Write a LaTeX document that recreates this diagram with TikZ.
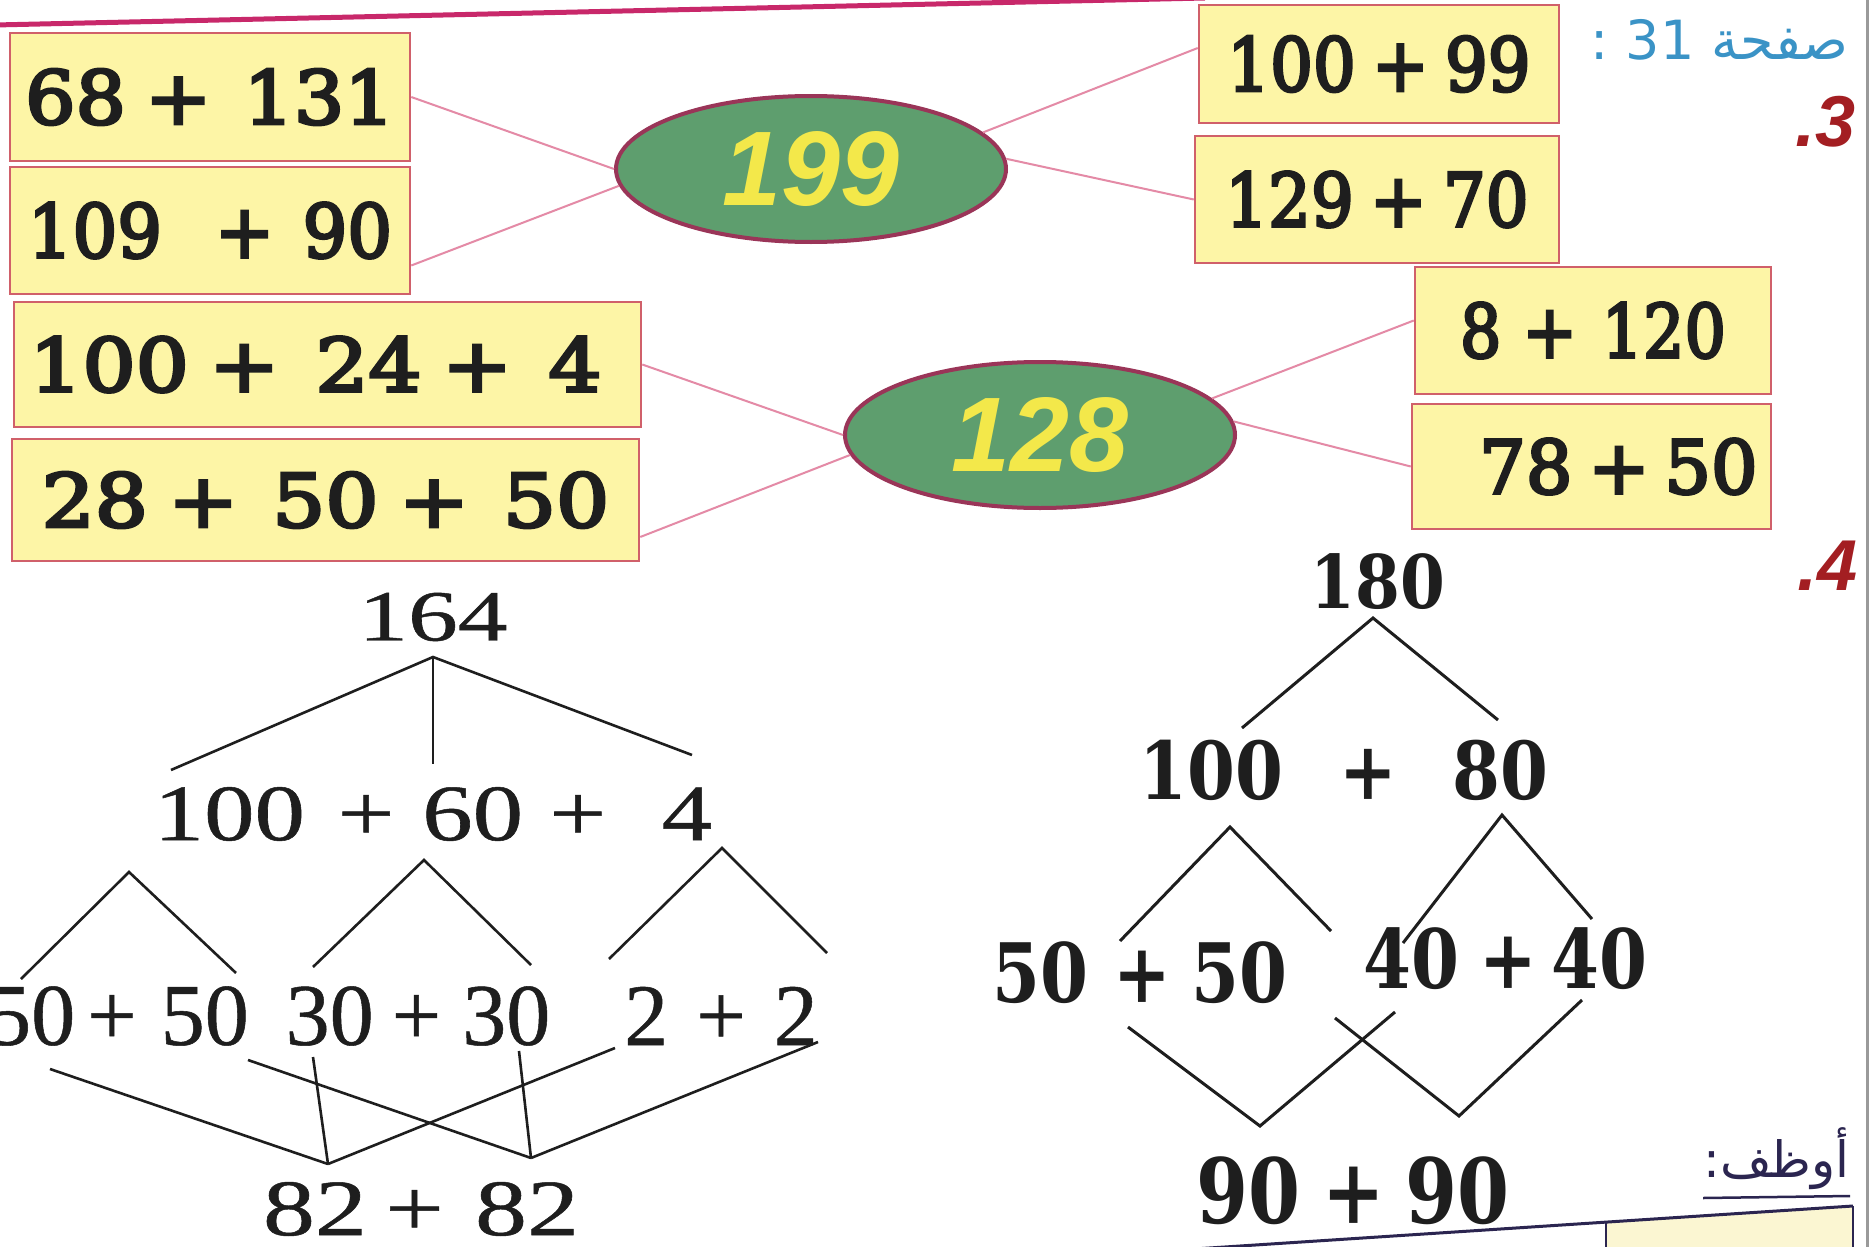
\documentclass[tikz,border=0pt]{standalone}
\usepackage{fontspec}
\usepackage{graphicx}
\usetikzlibrary{shapes.geometric,calc}
\TeXXeTstate=1
\setmainfont{DejaVu Serif}
\newfontfamily\boxfont{DejaVu Serif}[FakeBold=4]
\newfontfamily\treefont{DejaVu Serif}
\newfontfamily\leftfont{Liberation Serif}[FakeBold=0.6]
\newfontfamily\numfont{Liberation Sans}
\newfontfamily\arabicfont[Script=Arabic]{DejaVu Sans}
\newcommand\sq[2]{\scalebox{#1}[1]{#2}}
\newcommand\gp[1]{\hspace{#1pt}}
\newcommand\lfs[1]{\leftfont\fontsize{#1}{#1}\selectfont}
\newcommand\bfs[1]{\boxfont\fontsize{#1}{#1}\selectfont}
\newcommand\rfs[1]{\treefont\bfseries\fontsize{#1}{#1}\selectfont}
\definecolor{boxfill}{HTML}{FDF5A6}
\definecolor{boxline}{HTML}{D0606A}
\definecolor{ellfill}{HTML}{5E9E6E}
\definecolor{ellline}{HTML}{9A3558}
\definecolor{conn}{HTML}{E48AA6}
\definecolor{topline}{HTML}{C8286A}
\definecolor{numyellow}{HTML}{F3E84A}
\definecolor{headblue}{HTML}{3A93C6}
\definecolor{secred}{HTML}{A31E22}
\definecolor{ink}{HTML}{1E1E1E}
\definecolor{darkink}{HTML}{2B2550}
\definecolor{cellyellow}{HTML}{FBF6D2}
\definecolor{edgegray}{HTML}{9A9A9A}
\tikzset{
  sumbox/.style={draw=boxline, line width=2.5pt, fill=boxfill, inner sep=0pt, text=ink, font=\bfs{74}},
  blob/.style={ellipse, draw=ellline, line width=4pt, fill=ellfill, inner sep=0pt,
    minimum width=390pt, minimum height=146pt, text=numyellow,
    font=\numfont\bfseries\itshape\fontsize{106}{106}\selectfont},
  link/.style={draw=conn, line width=2pt},
  ltree/.style={text=ink, inner sep=0pt},
  rtree/.style={text=ink, inner sep=0pt},
  branch/.style={draw=ink, line width=2.6pt},
  secnum/.style={text=secred, inner sep=0pt, font=\numfont\bfseries\itshape\fontsize{72}{72}\selectfont},
}
\begin{document}
\begin{tikzpicture}[x=1pt, y=-1pt]
\useasboundingbox (0,0) rectangle (1872,1247);
\fill[white] (0,0) rectangle (1872,1247);

% top border line and right edge
\draw[topline, line width=5pt] (-5,25) -- (1205,-2);
\draw[edgegray, line width=3pt] (1867,0) -- (1867,1247);

% ---------- exercise 3 ----------
\node[sumbox, minimum width=400pt, minimum height=128pt] (b1) at (210,97) {\sq{1.07}{68\gp{18}+\gp{30}131}};
\node[sumbox, minimum width=400pt, minimum height=127pt] (b2) at (210,230.5) {\sq{0.95}{109\gp{56}+\gp{30}90}};
\node[sumbox, minimum width=360pt, minimum height=118pt] (b3) at (1379,64) {\sq{0.91}{100\gp{18}+\gp{18}99}};
\node[sumbox, minimum width=364pt, minimum height=127pt] (b4) at (1377,199.5) {\sq{0.91}{129\gp{18}+\gp{18}70}};
\node[sumbox, minimum width=627pt, minimum height=125pt] (b5) at (327.5,364.5) {\sq{1.13}{100\gp{18}+\gp{32}24\gp{18}+\gp{32}4}\hspace*{24pt}};
\node[sumbox, minimum width=627pt, minimum height=122pt] (b6) at (325.5,500) {\sq{1.13}{28\gp{18}+\gp{30}50\gp{18}+\gp{30}50}};
\node[sumbox, minimum width=356pt, minimum height=127pt] (b7) at (1593,330.5) {\sq{0.88}{8\gp{24}+\gp{28}120}};
\node[sumbox, minimum width=359pt, minimum height=125pt] (b8) at (1591.5,466.5) {\hspace*{54pt}\sq{0.99}{78\gp{16}+\gp{15}50}};

\node[blob] (e1) at (811,169) {199};
\node[blob] (e2) at (1040,435) {128};

\draw[link] (b1.east) -- (e1.west);
\draw[link] ($(b2.east)+(0,35)$) -- (e1.185);
\draw[link] (e1.12) -- ($(b3.west)+(0,-16)$);
\draw[link] (e1.3) -- (b4.west);
\draw[link] (b5.east) -- (e2.west);
\draw[link] ($(b6.east)+(0,37)$) -- (e2.186);
\draw[link] (e2.12) -- ($(b7.west)+(0,-10)$);
\draw[link] (e2.4) -- (b8.west);

% ---------- headers ----------
\node[font=\arabicfont\fontsize{54}{54}\selectfont, text=headblue, anchor=east, inner sep=0pt] (hdr) at (1849,40) {\beginR صفحة \beginL 31\endL{} :\endR};
\node[secnum, anchor=east] (s3) at (1856,122) {.3};
\node[secnum, anchor=east] (s4) at (1858,566) {.4};

% ---------- left tree ----------
\node[ltree, font=\lfs{72}] (l164) at (433,617) {\sq{1.38}{164}};
\node[ltree, font=\lfs{80}] (l2) at (433,814) {\sq{1.26}{100\gp{26}+\gp{22}60\gp{21}+\gp{44}4}};
\node[ltree, font=\lfs{88}] (l3a) at (118,1016) {\sq{1.0}{50\gp{12}+\gp{24}50}};
\node[ltree, font=\lfs{88}] (l3b) at (418,1016) {\sq{1.0}{30\gp{18}+\gp{21}30}};
\node[ltree, font=\lfs{88}] (l3c) at (721,1016) {\sq{1.0}{2\gp{28}+\gp{28}2}};
\node[ltree, font=\lfs{80}] (l4) at (421,1209) {\sq{1.3}{82\gp{14}+\gp{24}82}};

\coordinate (p0) at (433,657);
\coordinate (p0l) at (171,770);
\coordinate (p0m) at (433,764);
\coordinate (p0r) at (692,755);
\coordinate (pa) at (129,872);  \coordinate (pal) at (21,979);  \coordinate (par) at (236,973);
\coordinate (pb) at (424,860);  \coordinate (pbl) at (313,967); \coordinate (pbr) at (531,965);
\coordinate (pc) at (722,848);  \coordinate (pcl) at (609,959); \coordinate (pcr) at (827,953);
\coordinate (q1) at (50,1069);  \coordinate (q2) at (248,1060); \coordinate (q3) at (313,1057);
\coordinate (q4) at (519,1051); \coordinate (q5) at (615,1048); \coordinate (q6) at (818,1042);
\coordinate (v1) at (328,1164); \coordinate (v2) at (531,1158);

\draw[branch] (p0l) -- (p0) -- (p0r);
\draw[branch] (p0) -- (p0m);
\draw[branch] (pal) -- (pa) -- (par);
\draw[branch] (pbl) -- (pb) -- (pbr);
\draw[branch] (pcl) -- (pc) -- (pcr);
\draw[branch] (q1) -- (v1);
\draw[branch] (q3) -- (v1);
\draw[branch] (q5) -- (v1);
\draw[branch] (q2) -- (v2);
\draw[branch] (q4) -- (v2);
\draw[branch] (q6) -- (v2);

% ---------- right tree ----------
\node[rtree, font=\rfs{74}] (r180) at (1378,582) {\sq{0.87}{180}};
\node[rtree, font=\rfs{80}] (r2) at (1344,770) {\sq{0.86}{100\gp{65}+\gp{65}80}};
\node[rtree, font=\rfs{82}] (r3a) at (1140,973) {\sq{0.84}{50\gp{30}+\gp{25}50}};
\node[rtree, font=\rfs{82}] (r3b) at (1505,959) {\sq{0.84}{40\gp{24}+\gp{17}40}};
\node[rtree, font=\rfs{90}] (r4) at (1353,1191) {\sq{0.83}{90\gp{27}+\gp{24}90}};

\coordinate (s0) at (1373,618);  \coordinate (s0l) at (1242,728); \coordinate (s0r) at (1498,720);
\coordinate (sa) at (1230,827);  \coordinate (sal) at (1120,941); \coordinate (sar) at (1331,931);
\coordinate (sb) at (1502,815);  \coordinate (sbl) at (1403,943); \coordinate (sbr) at (1592,919);
\coordinate (u1) at (1128,1027); \coordinate (w1) at (1260,1126); \coordinate (u2) at (1395,1012);
\coordinate (u3) at (1335,1018); \coordinate (w2) at (1459,1116); \coordinate (u4) at (1582,1000);

\draw[branch, line width=3pt] (s0l) -- (s0) -- (s0r);
\draw[branch, line width=3pt] (sal) -- (sa) -- (sar);
\draw[branch, line width=3pt] (sbl) -- (sb) -- (sbr);
\draw[branch, line width=3pt] (u1) -- (w1) -- (u2);
\draw[branch, line width=3pt] (u3) -- (w2) -- (u4);

% ---------- bottom right: next section ----------
\coordinate (t0) at (1194,1249);
\coordinate (t1) at (1853,1206);
\coordinate (t2) at (1606,1222);
\fill[cellyellow] (t2) -- (t1) -- (1853,1247) -- (1606,1247) -- cycle;
\draw[darkink, line width=3pt] (t0) -- (t1);
\draw[darkink, line width=2.5pt] (t2) -- (1606,1247);
\draw[darkink, line width=2.5pt] (t1) -- (1853,1247);
\node[font=\arabicfont\fontsize{50}{50}\selectfont, text=darkink, anchor=south east, inner sep=0pt] (emp) at (1850,1190) {\beginR أوظف:\endR};
\draw[darkink, line width=2.5pt] ($(emp.south west)+(0,8)$) -- ($(emp.south east)+(0,6)$);
\end{tikzpicture}
\end{document}
